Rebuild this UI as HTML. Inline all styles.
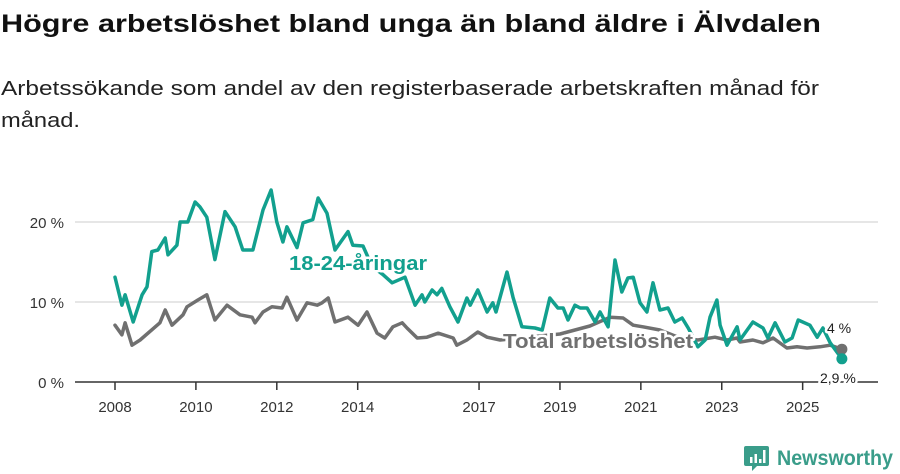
<!DOCTYPE html>
<html><head><meta charset="utf-8">
<style>
html,body{margin:0;padding:0;background:#fff;}
svg{display:block;font-family:"Liberation Sans","DejaVu Sans",sans-serif;}
</style></head>
<body>
<svg id="chart" width="900" height="474" viewBox="0 0 900 474">
<text x="1" y="32" font-size="25" font-weight="bold" fill="#111" textLength="820" lengthAdjust="spacingAndGlyphs">Högre arbetslöshet bland unga än bland äldre i Älvdalen</text>
<text x="1" y="95" font-size="20" fill="#222" textLength="818" lengthAdjust="spacingAndGlyphs">Arbetssökande som andel av den registerbaserade arbetskraften månad för</text>
<text x="1" y="127" font-size="20" fill="#222" textLength="79" lengthAdjust="spacingAndGlyphs">månad.</text>
<g id="grid"></g>
<g id="series"></g>
<g id="labels"></g>
<g>
<path d="M746 446 h21 a2 2 0 0 1 2 2 v16 a2 2 0 0 1 -2 2 h-10 l-5 5 v-5 h-6 a2 2 0 0 1 -2 -2 v-16 a2 2 0 0 1 2 -2z" fill="#3a9d8a"/>
<rect x="750" y="457" width="2.5" height="6" fill="#fff"/><rect x="754.5" y="454" width="2.5" height="9" fill="#fff"/><rect x="759" y="459" width="2.5" height="4" fill="#fff"/><rect x="763" y="450" width="2.5" height="13" fill="#fff"/>
<text x="777" y="465" font-size="21" fill="#3a9d8a" font-weight="bold" textLength="116" lengthAdjust="spacingAndGlyphs">Newsworthy</text>
</g>
</svg>
<script>
const yTicks=[0,10,20];
const yTickLabels=["0 %","10 %","20 %"];
const xTicks=[2008,2010,2012,2014,2017,2019,2021,2023,2025];
const youthDates=[2008.00,2008.17,2008.25,2008.45,2008.67,2008.79,2008.91,2009.06,2009.24,2009.31,2009.53,2009.61,2009.80,2009.98,2010.10,2010.27,2010.47,2010.72,2010.97,2011.16,2011.41,2011.66,2011.86,2012.00,2012.15,2012.25,2012.50,2012.65,2012.89,2013.02,2013.24,2013.44,2013.76,2013.88,2014.13,2014.35,2014.63,2014.85,2015.17,2015.42,2015.59,2015.66,2015.84,2015.96,2016.08,2016.28,2016.48,2016.70,2016.78,2016.97,2017.20,2017.34,2017.42,2017.69,2017.84,2018.06,2018.38,2018.56,2018.75,2018.95,2019.08,2019.20,2019.37,2019.50,2019.67,2019.87,2019.99,2020.19,2020.36,2020.53,2020.68,2020.81,2020.98,2021.15,2021.30,2021.47,2021.67,2021.84,2022.02,2022.17,2022.41,2022.59,2022.71,2022.88,2022.96,2023.13,2023.38,2023.45,2023.77,2024.02,2024.14,2024.32,2024.56,2024.74,2024.89,2025.18,2025.36,2025.50,2025.68,2025.97];
const youthValues=[13.1,9.6,10.9,7.5,10.9,11.9,16.3,16.5,18,15.9,17.1,20,20,22.5,21.9,20.6,15.3,21.3,19.4,16.5,16.5,21.5,24,20,17.5,19.4,16.8,19.9,20.3,23,21.1,16.5,18.8,17.1,17,14.5,13.4,12.4,13.1,9.6,10.9,10,11.5,10.9,11.7,9.4,7.5,10.5,9.6,11.5,8.75,9.9,8.75,13.75,10.6,6.9,6.75,6.5,10.5,9.25,9.25,7.75,9.6,9.25,9.25,7.5,8.75,6.9,15.25,11.25,13,13.1,9.9,8.75,12.4,9,9.25,7.5,8,6.75,4.4,5.25,8.1,10.25,7.1,4.6,6.9,5.25,7.5,6.75,5.5,7.4,5,5.5,7.75,7.1,5.6,6.75,4.9,2.9];
const totalDates=[2008.00,2008.17,2008.25,2008.42,2008.62,2009.11,2009.24,2009.41,2009.68,2009.78,2010.05,2010.27,2010.47,2010.77,2011.09,2011.39,2011.46,2011.66,2011.88,2012.13,2012.25,2012.50,2012.75,2013.00,2013.12,2013.27,2013.44,2013.76,2014.01,2014.23,2014.48,2014.67,2014.87,2015.10,2015.22,2015.47,2015.71,2015.99,2016.36,2016.45,2016.70,2016.97,2017.20,2017.52,2018.01,2019.00,2019.74,2020.24,2020.56,2020.81,2021.05,2021.47,2021.97,2022.41,2022.83,2023.13,2023.38,2023.45,2023.77,2024.02,2024.27,2024.61,2024.86,2025.11,2025.43,2025.68,2025.97];
const totalValues=[7.1,5.9,7.4,4.6,5.25,7.4,9,7.1,8.4,9.4,10.25,10.9,7.75,9.6,8.4,8.1,7.4,8.75,9.4,9.25,10.6,7.75,9.9,9.6,9.9,10.5,7.5,8.1,7.1,8.75,6.1,5.5,6.9,7.4,6.75,5.5,5.6,6.1,5.5,4.6,5.25,6.25,5.6,5.25,5.5,6,7,8.1,8,7.1,6.9,6.5,5.5,5.25,5.6,5.25,5.5,5,5.25,4.9,5.5,4.25,4.4,4.25,4.4,4.6,4.1];
const NS='http://www.w3.org/2000/svg';
const X=t=>115+(t-2008)*40.45;
const Y=v=>382-v*8;
function mk(tag,attrs,parent){const e=document.createElementNS(NS,tag);for(const k in attrs)e.setAttribute(k,attrs[k]);parent.appendChild(e);return e;}
const grid=document.getElementById('grid');
yTicks.forEach((v,i)=>{
  if(v>0){const l=mk('line',{x1:75,x2:878,y1:Y(v),y2:Y(v),stroke:'#ddd','stroke-width':1.5},grid);
  
  }
  const t=mk('text',{x:64,y:Y(v)+6,'text-anchor':'end','font-size':15,fill:'#333'},grid);
  t.textContent=yTickLabels[i];
  
  
});
const ax=mk('line',{x1:75,x2:878,y1:382,y2:382,stroke:'#333','stroke-width':1.5},grid);


xTicks.forEach(yr=>{
  const l=mk('line',{x1:X(yr),x2:X(yr),y1:382,y2:390,stroke:'#333','stroke-width':1.5},grid);
  
  
  const t=mk('text',{x:X(yr),y:412,'text-anchor':'middle','font-size':15,fill:'#333'},grid);
  t.textContent=yr;
  
  
});
const sg=document.getElementById('series');
function line(d,v,color,name){
  const p=mk('path',{d:d.map((t,i)=>(i?'L':'M')+X(t).toFixed(1)+' '+Y(v[i]).toFixed(1)).join(''),fill:'none',stroke:color,'stroke-width':3.5,'stroke-linejoin':'round','stroke-linecap':'round'},sg);
  
  
}
line(totalDates,totalValues,'#707070','total-line');
line(youthDates,youthValues,'#12a08e','youth-line');
const lt=totalDates.length-1, ly=youthDates.length-1;
const d1=mk('circle',{cx:X(totalDates[lt]),cy:Y(totalValues[lt]),r:5.5,fill:'#707070'},sg);


const d2=mk('circle',{cx:X(youthDates[ly]),cy:Y(youthValues[ly]),r:5.5,fill:'#12a08e'},sg);


const lg=document.getElementById('labels');
function lab(x,y,txt,color,size,bold,name,len){
  const a={x:x,y:y,'font-size':size,fill:color,'font-weight':bold?'bold':'normal',stroke:'#fff','stroke-width':5,'paint-order':'stroke','stroke-linejoin':'round'};
  if(len){a.textLength=len;a.lengthAdjust='spacingAndGlyphs';}
  const t=mk('text',a,lg);
  t.textContent=txt;
  
  
}
lab(289,270,'18-24-åringar','#12a08e',20,true,'youth-series-label',138);
lab(503,348,'Total arbetslöshet','#707070',20,true,'total-series-label',190);
lab(827,333,'4 %','#222',14,false,'total-end-value');
lab(820,383,'2,9 %','#222',14,false,'youth-end-value');
</script>
</body></html>
